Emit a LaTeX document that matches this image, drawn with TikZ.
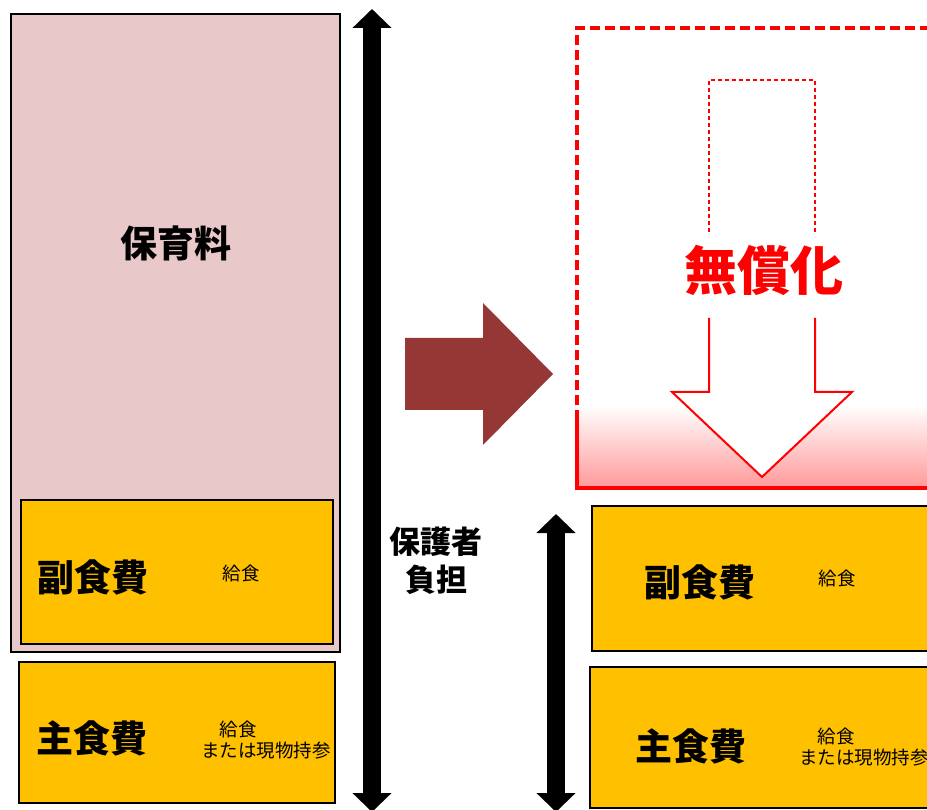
\documentclass[tikz,border=0pt]{standalone}
\usepackage{fontspec}
\setmainfont{Noto Sans CJK JP}
\usepackage{tikz}
\usetikzlibrary{arrows.meta}
\usepackage{xcolor}
\definecolor{feecol}{HTML}{FFC000}
\definecolor{hoikucol}{HTML}{E8C8C8}
\definecolor{shiftcol}{HTML}{953735}
\colorlet{freecol}{red}
\tikzstyle{feebox}=[draw=black,fill=feecol,line width=1.3pt]
\tikzstyle{burden}=[{Triangle[width=38pt,length=19pt]}-{Triangle[width=38pt,length=19pt]},line width=18pt]
\tikzstyle{bigtext}=[font=\fontsize{37}{40}\selectfont\bfseries,inner sep=0]
\tikzstyle{smalltext}=[font=\fontsize{18.5}{20}\selectfont,inner sep=0]
\tikzset{
  freeline/.style={freecol,line width=#1,line join=miter},
  freeline/.default=2pt}

\begin{document}
\begin{tikzpicture}[x=1pt,y=-1pt]
  \useasboundingbox (0,0) rectangle (927,810);
  \clip (0,0) rectangle (927,810);

  % BEFORE
  \draw[fill=hoikucol,line width=1.2pt] (11,14) rectangle (340,652);
  \node[bigtext] (hoiku) at (176,243) {保育料};
  \draw[feebox] (21,500) rectangle (333,644);
  \node[bigtext] (fuku1) at (93,577) {副食費};
  \node[smalltext] (kyu1) at (241,573) {給食};
  \draw[feebox] (19,662) rectangle (335,803);
  \node[bigtext] (shu1) at (92,738) {主食費};
  \node[smalltext] (kyu2) at (238,729) {給食};
  \node[smalltext] (genb1) at (266,751) {または現物持参};

  % BURDEN
  \coordinate (bt1) at (372,9);
  \coordinate (bb1) at (372,812);
  \draw[burden] (bt1) -- (bb1);
  \node[font=\fontsize{31}{38}\selectfont\bfseries,align=center,inner sep=0]
    (hogo) at (436,561) {保護者\\負担};

  % SHIFT
  \fill[shiftcol] (405,338) -- (483,338) -- (483,303) -- (553,374)
    -- (483,445) -- (483,410) -- (405,410) -- cycle;

  % AFTER
  \shade[top color=white,bottom color=red!40] (577,405) rectangle (930,488);
  \draw[freeline=3.5pt,dash pattern=on 10pt off 5pt] (577,420) -- (577,28) -- (930,28);
  \draw[freeline=3.5pt] (577,420) -- (577,488) -- (930,488);
  \draw[freeline=1.5pt,dash pattern=on 4pt off 3pt] (709,232) -- (709,80) -- (815,80) -- (815,232);
  \fill[white] (709,318) -- (709,392) -- (672,392) -- (762,477) -- (852,392)
    -- (815,392) -- (815,318) -- cycle;
  \draw[freeline] (709,318) -- (709,392) -- (672,392) -- (762,477) -- (852,392)
    -- (815,392) -- (815,318);
  \node[font=\fontsize{53}{56}\selectfont\bfseries,text=freecol,inner sep=0]
    (muryo) at (764,270) {無償化};

  \draw[feebox] (592,506) rectangle (935,651);
  \node[bigtext] (fuku2) at (700,582) {副食費};
  \node[smalltext] (kyu3) at (837,578) {給食};
  \draw[feebox] (590,667) rectangle (935,808);
  \node[bigtext] (shu2) at (691,746) {主食費};
  \node[smalltext] (kyu4) at (836,736) {給食};
  \node[smalltext,anchor=west] (genb2) at (799,758) {または現物持参};

  \coordinate (bt2) at (556,514);
  \coordinate (bb2) at (556,812);
  \draw[burden] (bt2) -- (bb2);

\end{tikzpicture}
\end{document}
